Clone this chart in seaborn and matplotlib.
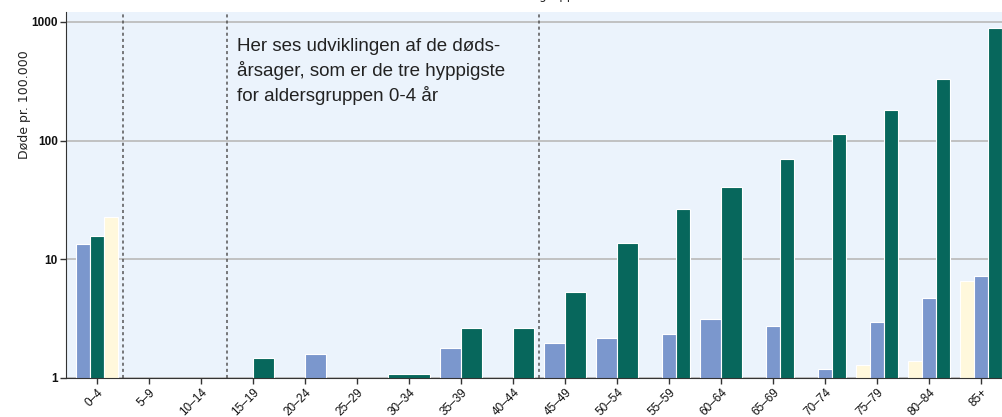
"""Death rate per 100.000 by age group, log scale bar chart."""

import numpy as np
import pandas as pd
import matplotlib
matplotlib.use("Agg")
import matplotlib.pyplot as plt
from matplotlib import font_manager
from matplotlib.ticker import NullLocator
import seaborn as sns

nan = np.nan

# age groups on the x axis
ages = ["0–4", "5–9", "10–14", "15–19", "20–24", "25–29", "30–34", "35–39",
        "40–44", "45–49", "50–54", "55–59", "60–64", "65–69", "70–74",
        "75–79", "80–84", "85+"]

# deaths per 100.000, three causes
cause_a = [13.5, nan, nan, nan, 1.58, nan, nan, 1.78, nan, 1.97, 2.16, 2.36,
           3.14, 2.76, 1.18, 2.96, 4.75, 7.23]
cause_b = [15.7, nan, nan, 1.47, nan, nan, 1.09, 2.65, 2.65, 5.3, 13.7, 26.5,
           40.4, 69.5, 114.0, 181.0, 330.0, 884.0]
cause_c = [22.9, nan, nan, nan, nan, nan, nan, nan, nan, nan, nan, nan,
           nan, nan, nan, 1.29, 1.40, 6.53]

# order of the bar slots inside each age group
slots = ["ABC", "", "", "AB", "CA", "", "B", "AB", "AB", "AB", "AB", "CAB",
         "AB", "CAB", "CAB", "CAB", "CAB", "CAB"]

colors = {"A": "#7b97cd", "B": "#07675c", "C": "#fff8dc"}

yticks = [1, 10, 100, 1000]
ytick_labels = ["1", "10", "100", "1000"]
dividers = [0.5, 2.5, 8.5]

note = ("Her ses udviklingen af de døds-\n"
        "årsager, som er de tre hyppigste\n"
        "for aldersgruppen 0-4 år")

# long table
rows = []
for i, age in enumerate(ages):
    for name, vals in (("A", cause_a), ("B", cause_b), ("C", cause_c)):
        if not np.isnan(vals[i]):
            rows.append({"age": age, "cause": name, "value": vals[i],
                         "pattern": slots[i]})
df = pd.DataFrame(rows)

sns.set_style("ticks", {"axes.facecolor": "#ebf3fc",
                        "axes.edgecolor": "#333333"})

# condensed font for the tick labels if there is one
installed = {f.name for f in font_manager.fontManager.ttflist}
if "Liberation Sans Narrow" in installed:
    tick_font, xtick_size, ytick_size = "Liberation Sans Narrow", 9.5, 9.5
else:
    tick_font, xtick_size, ytick_size = "Liberation Sans", 8.5, 8.5

fig = plt.figure(figsize=(10.03, 4.17), dpi=100)
ax = fig.add_axes([66 / 1003, 1 - 378 / 417, 937 / 1003, 366 / 417])

# one barplot per slot pattern so the dodge width follows the bar count
for pattern in df["pattern"].unique():
    sub = df[df["pattern"] == pattern]
    sns.barplot(data=sub, x="age", y="value", hue="cause",
                hue_order=list(pattern), order=ages, palette=colors,
                width=0.8, gap=0, dodge=True, errorbar=None,
                edgecolor="white", linewidth=0.8, legend=False,
                saturation=1, ax=ax)

ax.set_yscale("log")
ax.set_ylim(1, 1210)
ax.set_xlim(-0.6, 17.42)
ax.set_yticks(yticks, labels=ytick_labels)
ax.yaxis.set_minor_locator(NullLocator())
ax.grid(axis="y", color="#bdbdbd", linewidth=1.3)
ax.set_axisbelow(True)

for xv in dividers:
    ax.axvline(xv, color="#555555", linestyle=(0, (2, 2)), linewidth=1.1)

ax.spines[["top", "right"]].set_visible(False)
ax.tick_params(axis="both", length=4, width=1, color="#333333",
               pad=2, labelcolor="#111111")
ax.tick_params(axis="x", pad=2, labelsize=xtick_size)
ax.tick_params(axis="y", labelsize=ytick_size)
for lab in ax.get_yticklabels():
    lab.set_family(tick_font)
    lab.set_weight("bold")
for lab in ax.get_xticklabels():
    lab.set_family(tick_font)
    lab.set_rotation(45)
    lab.set_ha("right")
    lab.set_va("top")
    lab.set_rotation_mode("anchor")

ax.set_xlabel("")
ax.set_ylabel("Døde pr. 100.000", fontsize=9, color="#222222")
ax.yaxis.set_label_coords(-0.037, 0.746)

ax.text(0.183, 0.93, note, transform=ax.transAxes, va="top", ha="left",
        fontsize=13.5, family=["Liberation Sans", "DejaVu Sans"],
        linespacing=1.42, color="#222222")

# title sits mostly above the canvas
fig.text(0.541, 1 + 0.5 / 417, "Aldersgruppe", ha="center", va="baseline",
         fontsize=8.5)

fig.savefig("out.png", dpi=100)
plt.close()
